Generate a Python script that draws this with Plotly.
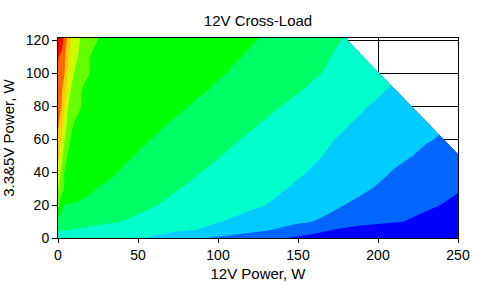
import plotly.graph_objects as go

# ---- text ----
chart_title = "12V Cross-Load"
x_title = "12V Power, W"
y_title = "3.3&5V Power, W"

# ---- data ----
# 12V load grid (W) and 3.3&5V load grid (W)
p12 = [0, 2, 4, 6, 8, 10, 15, 20, 25, 30, 40, 50, 60, 70, 80, 90, 100, 110, 120,
       130, 140, 150, 160, 170, 180, 190, 200, 210, 220, 230, 240, 250]
p335 = [0, 5, 10, 20, 30, 40, 50, 60, 70, 80, 90, 100, 110, 120, 121.5]

N = None  # outside the combined-power limit (no measurement)
# colour-band index (0 = deepest blue ... 10 = red), one row per 3.3&5V load
row_0 = [3.1, 3.08, 3.06, 3.04, 3.02, 3.0, 2.95, 2.89, 2.84, 2.78, 2.67, 2.56, 2.37, 2.11, 1.84, 1.58, 1.36, 1.16, 0.96,
         0.76, 0.56, 0.36, 0.16, -0.04, -0.2, -0.4, -0.6, -0.8, -1.0, -1.2, -1.4, -1.6]
row_5 = [3.6, 3.57, 3.55, 3.52, 3.49, 3.47, 3.41, 3.34, 3.28, 3.22, 3.09, 2.97, 2.84, 2.71, 2.59, 2.44, 2.22, 2.01, 1.80,
         1.59, 1.34, 1.08, 0.82, 0.55, 0.29, 0.03, -0.2, -0.4, -0.6, -0.8, -1.0, -1.2]
row_10 = [4.1, 4.05, 4.0, 3.96, 3.92, 3.88, 3.81, 3.75, 3.69, 3.62, 3.49, 3.34, 3.18, 3.02, 2.87, 2.71, 2.55, 2.38, 2.20,
          2.02, 1.84, 1.66, 1.48, 1.31, 1.13, 0.96, 0.78, 0.61, 0.43, 0.25, 0.08, -0.1]
row_20 = [5.82, 5.02, 4.49, 4.45, 4.42, 4.39, 4.30, 4.22, 4.13, 4.05, 3.87, 3.70, 3.53, 3.38, 3.24, 3.09, 2.94, 2.79, 2.65,
          2.49, 2.30, 2.09, 1.89, 1.68, 1.48, 1.32, 1.15, 0.98, 0.82, 0.65, 0.48, 0.32]
row_30 = [6.63, 5.79, 5.44, 5.34, 5.24, 5.15, 4.91, 4.66, 4.47, 4.37, 4.18, 3.99, 3.80, 3.61, 3.44, 3.29, 3.15, 3.0, 2.85,
          2.71, 2.56, 2.38, 2.19, 2.0, 1.80, 1.61, 1.43, 1.26, 1.10, 0.93, 0.73, 0.56]
row_40 = [7.1, 6.39, 5.49, 5.43, 5.37, 5.31, 5.16, 5.01, 4.86, 4.71, 4.44, 4.25, 4.07, 3.88, 3.69, 3.49, 3.35, 3.20, 3.05,
          2.89, 2.74, 2.59, 2.42, 2.23, 2.04, 1.86, 1.67, 1.45, 1.22, 1.02, 0.88, 0.75]
row_50 = [7.86, 6.95, 6.0, 5.48, 5.43, 5.38, 5.26, 5.15, 5.03, 4.91, 4.67, 4.45, 4.27, 4.09, 3.90, 3.72, 3.54, 3.37, 3.22,
          3.06, 2.90, 2.74, 2.59, 2.42, 2.24, 2.06, 1.89, 1.71, 1.54, 1.32, 1.10, 0.90]
row_60 = [8.2, 7.53, 6.55, 5.77, 5.47, 5.44, 5.34, 5.24, 5.15, 5.05, 4.86, 4.66, 4.47, 4.29, 4.11, 3.93, 3.75, 3.57, 3.40,
          3.23, 3.06, 2.89, 2.72, 2.55, 2.39, 2.23, 2.06, 1.90, 1.74, 1.58, 1.42, N]
row_70 = [8.7, 8.02, 7.08, 6.28, 5.78, 5.49, 5.40, 5.32, 5.24, 5.16, 4.99, 4.83, 4.66, 4.49, 4.32, 4.15, 3.97, 3.79, 3.62,
          3.44, 3.27, 3.09, 2.91, 2.74, 2.56, 2.39, 2.21, 2.04, 1.86, 1.69, N, N]
row_80 = [8.85, 8.53, 7.55, 6.6, 6.18, 5.83, 5.46, 5.38, 5.31, 5.24, 5.10, 4.96, 4.81, 4.67, 4.53, 4.36, 4.19, 4.02, 3.84,
          3.67, 3.49, 3.31, 3.13, 2.94, 2.76, 2.57, 2.39, 2.20, 2.0, N, N, N]
row_90 = [9.0, 8.70, 8.11, 7.19, 6.51, 6.19, 5.49, 5.43, 5.37, 5.31, 5.18, 5.06, 4.93, 4.81, 4.68, 4.56, 4.41, 4.24, 4.07,
          3.90, 3.73, 3.56, 3.37, 3.18, 2.98, 2.79, 2.60, 2.40, N, N, N, N]
row_100 = [9.2, 8.87, 8.53, 7.6, 7.03, 6.49, 5.81, 5.47, 5.41, 5.36, 5.24, 5.13, 5.02, 4.91, 4.79, 4.68, 4.57, 4.43, 4.26,
           4.09, 3.92, 3.75, 3.58, 3.41, 3.24, 3.07, 2.90, N, N, N, N, N]
row_110 = [9.6, 9.19, 8.70, 8.0, 7.32, 6.86, 6.10, 5.49, 5.45, 5.40, 5.29, 5.19, 5.08, 4.98, 4.88, 4.77, 4.67, 4.56, 4.43,
           4.24, 4.06, 3.88, 3.70, 3.51, 3.33, 3.15, N, N, N, N, N, N]
row_120 = [10.4, 10.1, 9.17, 8.28, 7.54, 7.11, 6.3, 5.8, 5.48, 5.43, 5.33, 5.24, 5.14, 5.04, 4.95, 4.85, 4.75, 4.66, 4.56,
           4.42, 4.23, 4.03, 3.83, 3.64, 3.44, N, N, N, N, N, N, N]
row_121 = [10.5, 10.2, 9.25, 8.35, 7.6, 7.15, 6.33, 5.83, 5.49, 5.44, 5.34, 5.25, 5.15, 5.05, 4.96, 4.86, 4.76, 4.67, 4.58,
           4.44, 4.26, 4.06, 3.86, 3.67, 3.47, N, N, N, N, N, N, N]

levels = [row_0, row_5, row_10, row_20, row_30, row_40, row_50, row_60, row_70,
          row_80, row_90, row_100, row_110, row_120, row_121]

band_colors = ["#0000FF", "#0066FF", "#00CCFF", "#00FFCC", "#00FF66", "#00FF00",
               "#66FF00", "#CCFF00", "#FFCC00", "#FF6600", "#FF0000"]

x_ticks = [0, 50, 100, 150, 200, 250]
y_ticks = [0, 20, 40, 60, 80, 100, 120]

# ---- figure ----
n = len(band_colors)
colorscale = [[i / (n - 1), c] for i, c in enumerate(band_colors)]

fig = go.Figure(
    go.Contour(
        x=p12, y=p335, z=levels,
        colorscale=colorscale,
        autocontour=False,
        contours=dict(start=0.5, end=n - 1.5, size=1, coloring="fill", showlines=False),
        line=dict(width=0),
        connectgaps=False,
        showscale=False,
        hoverinfo="skip",
    )
)

axis_common = dict(
    ticks="outside", tickcolor="black", tickwidth=1,
    showline=True, linecolor="black", linewidth=1, mirror=True,
    showgrid=True, gridcolor="black", gridwidth=1,
    zeroline=False, tickfont=dict(size=14, color="black"),
)

fig.update_layout(
    width=487, height=286,
    margin=dict(l=58, r=29, t=38, b=48, autoexpand=False),
    paper_bgcolor="white", plot_bgcolor="white",
    font=dict(family="Liberation Sans, Arial, sans-serif", size=14, color="black"),
    title=dict(text=chart_title, x=0.5, xref="paper", xanchor="center",
               y=1 - 20.5 / 286, yref="container", yanchor="middle",
               font=dict(size=15, color="black")),
    showlegend=False,
)
fig.update_xaxes(range=[0, 250], tickvals=x_ticks, ticklen=4,
                 title=dict(text=x_title, font=dict(size=15), standoff=6), **axis_common)
fig.update_yaxes(range=[0, 121.5], tickvals=y_ticks, ticklen=5,
                 title=dict(text=y_title, font=dict(size=15), standoff=8), **axis_common)

fig.write_html("out.html")
